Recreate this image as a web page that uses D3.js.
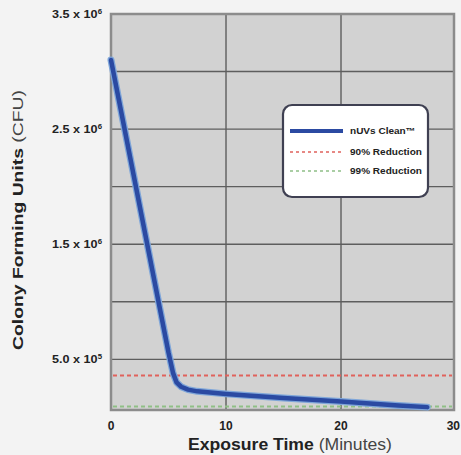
<!DOCTYPE html>
<html>
<head>
	<meta charset="utf-8">
	<title>Colony Forming Units vs Exposure Time</title>
	<script src="https://d3js.org/d3.v7.min.js"></script>
	<style>
		body { margin: 0; background: #f3f3f3; }
		text { font-family: "Liberation Sans", Arial, sans-serif; }
	</style>
</head>
<body>
	<script>
		var width = 461, height = 455;

		// readings
		var times = [0, 5.0, 5.4, 5.7, 6.1, 6.7, 7.5, 10, 15, 20, 25, 27.5];
		var cfu = [3100000, 560000, 380000, 300000, 262000, 237000, 222000, 200000, 165000, 133000, 100000, 85000];
		var reduction90 = 360000;
		var reduction99 = 90000;
		var xTicks = [0, 10, 20, 30];
		var yGrid = [500000, 1000000, 1500000, 2000000, 2500000, 3000000, 3500000];
		var yLabels = [[3500000, "3.5 x 10", "6"], [2500000, "2.5 x 10", "6"], [1500000, "1.5 x 10", "6"], [500000, "5.0 x 10", "5"]];
		var legendNames = ["nUVs Clean\u2122", "90% Reduction", "99% Reduction"];

		// note: "top" is taken by window.top, so plot edges get their own names
		var pLeft = 111, pRight = 454, pTop = 14, pBottom = 410;

		var x = d3.scaleLinear().domain([0, 30]).range([pLeft, pLeft + 345]);
		var y = d3.scaleLinear().domain([60000, 3500000]).range([pBottom, pTop]);

		var svg = d3.select("body").append("svg").attr("width", width).attr("height", height);

		// the original uses a wide heavy grotesque, so widen the glyphs a bit
		function stretch(sel, k) {
			sel.each(function() {
				var w = this.getComputedTextLength();
				d3.select(this).attr("textLength", w * k).attr("lengthAdjust", "spacingAndGlyphs");
			});
		}

		// plot background
		svg.append("rect").attr("x", pLeft).attr("y", pTop).attr("width", pRight - pLeft).attr("height", pBottom - pTop)
			.attr("fill", "#d2d2d2");

		// grid
		svg.append("g").selectAll("line").data(yGrid).enter().append("line")
			.attr("x1", pLeft).attr("x2", pRight)
			.attr("y1", function(d){ return y(d); }).attr("y2", function(d){ return y(d); })
			.attr("stroke", "#5e5e5e").attr("stroke-width", 1.4);
		svg.append("g").selectAll("line").data([10, 20]).enter().append("line")
			.attr("y1", pTop).attr("y2", pBottom)
			.attr("x1", function(d){ return x(d); }).attr("x2", function(d){ return x(d); })
			.attr("stroke", "#5e5e5e").attr("stroke-width", 1.4);

		// border
		svg.append("rect").attr("x", pLeft).attr("y", pTop).attr("width", pRight - pLeft).attr("height", pBottom - pTop)
			.attr("fill", "none").attr("stroke", "#8c8c8c").attr("stroke-width", 2.5);

		// reduction lines
		svg.append("line").attr("x1", pLeft + 2).attr("x2", pRight - 2)
			.attr("y1", y(reduction90)).attr("y2", y(reduction90))
			.attr("stroke", "#e0625c").attr("stroke-width", 2).attr("stroke-dasharray", "4,3");
		svg.append("line").attr("x1", pLeft + 2).attr("x2", pRight - 2)
			.attr("y1", y(reduction99)).attr("y2", y(reduction99))
			.attr("stroke", "#8fbf86").attr("stroke-width", 2).attr("stroke-dasharray", "4,3");

		// curve
		var pts = times.map(function(t, i){ return [t, cfu[i]]; });
		var line = d3.line().x(function(d){ return x(d[0]); }).y(function(d){ return y(d[1]); })
			.curve(d3.curveLinear);
		svg.append("path").attr("d", line(pts)).attr("fill", "none")
			.attr("stroke", "#7fa6d9").attr("stroke-width", 7).attr("stroke-linecap", "round").attr("stroke-linejoin", "round");
		svg.append("path").attr("d", line(pts)).attr("fill", "none")
			.attr("stroke", "#2b4aa2").attr("stroke-width", 4.5).attr("stroke-linecap", "round").attr("stroke-linejoin", "round");

		// y labels
		var yl = svg.append("g").selectAll("text").data(yLabels).enter().append("text")
			.attr("x", 102).attr("y", function(d){ return y(d[0]) + 4; })
			.attr("text-anchor", "end").attr("font-size", 10.5).attr("font-weight", "bold").attr("fill", "#222");
		yl.append("tspan").text(function(d){ return d[1]; });
		yl.append("tspan").attr("dy", -4.5).attr("font-size", 6.5).text(function(d){ return d[2]; });
		stretch(yl, 1.2);

		// x labels (last one sits at the window edge, keep it inside)
		svg.append("g").selectAll("text").data(xTicks).enter().append("text")
			.attr("x", function(d, i){ return i == xTicks.length - 1 ? width - 1 : x(d); }).attr("y", 430)
			.attr("text-anchor", function(d, i){ return i == xTicks.length - 1 ? "end" : "middle"; })
			.attr("font-size", 12).attr("font-weight", "bold").attr("fill", "#222")
			.text(function(d){ return d; });

		// axis titles
		var xt = svg.append("text").attr("x", 290).attr("y", 450).attr("text-anchor", "middle")
			.attr("font-size", 16).attr("fill", "#222");
		xt.append("tspan").attr("font-weight", "bold").text("Exposure Time ");
		xt.append("tspan").attr("fill", "#444").text("(Minutes)");
		xt.attr("textLength", 204).attr("lengthAdjust", "spacingAndGlyphs");

		var yt = svg.append("text").attr("transform", "translate(23,220) rotate(-90)").attr("text-anchor", "middle")
			.attr("font-size", 15).attr("fill", "#222");
		yt.append("tspan").attr("font-weight", "bold").text("Colony Forming Units ");
		yt.append("tspan").attr("fill", "#444").text("(CFU)");
		yt.attr("textLength", 260).attr("lengthAdjust", "spacingAndGlyphs");

		// legend
		var lg = svg.append("g");
		lg.append("rect").attr("x", 283).attr("y", 105).attr("width", 145).attr("height", 92).attr("rx", 9)
			.attr("fill", "#fff").attr("stroke", "#3f4052").attr("stroke-width", 2.2);
		var legendRows = [
			{ y: 131, color: "#2b4aa2", w: 4, dash: null },
			{ y: 152, color: "#e0625c", w: 1.5, dash: "3,3" },
			{ y: 171, color: "#8fbf86", w: 1.5, dash: "3,3" }
		];
		lg.selectAll("line").data(legendRows).enter().append("line")
			.attr("x1", 290).attr("x2", 343)
			.attr("y1", function(d){ return d.y; }).attr("y2", function(d){ return d.y; })
			.attr("stroke", function(d){ return d.color; }).attr("stroke-width", function(d){ return d.w; })
			.attr("stroke-dasharray", function(d){ return d.dash; });
		var lt = lg.selectAll("text").data(legendRows).enter().append("text")
			.attr("x", 350).attr("y", function(d){ return d.y + 3; })
			.attr("font-size", 8.5).attr("font-weight", "bold").attr("fill", "#222")
			.text(function(d, i){ return legendNames[i]; });
		stretch(lt, 1.18);
	</script>
</body>
</html>
